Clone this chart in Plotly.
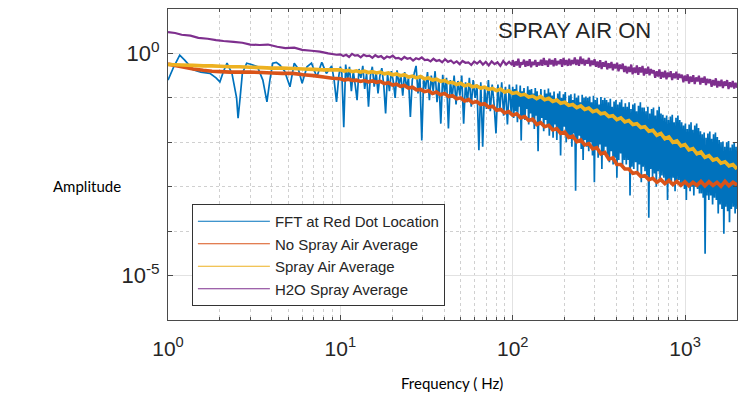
import numpy as np
import plotly.graph_objects as go

# ---------------- data (values are log10 of amplitude) ----------------
fft_low_freq = [1.0, 1.08, 1.17, 1.25, 1.4, 1.55, 1.75, 1.9, 2.0, 2.1, 2.2, 2.35, 2.5, 2.55, 2.62, 2.7,
                2.86, 3.05, 3.3, 3.55, 3.75, 3.9, 4.05, 4.25, 4.45, 4.75, 5.1, 5.4, 5.7, 6.0, 6.4, 6.8,
                7.3, 7.8, 8.3, 8.9, 9.2, 9.5, 9.8, 10.0]
fft_low_log = [-0.6, -0.3, -0.04, -0.15, -0.37, -0.42, -0.45, -0.55, -0.64, -0.4, -0.22, -0.45, -1.0, -1.46,
               -1.0, -0.45, -0.22, -0.25, -0.3, -0.6, -1.09, -0.6, -0.22, -0.2, -0.26, -0.4, -0.75, -0.22,
               -0.35, -0.67, -0.3, -0.22, -0.53, -0.2, -0.45, -0.28, -0.6, -1.09, -0.5, -0.3]
# 10.2 - 98 Hz (log-spaced bins)
fft_mid_log = [-0.45, -1.66, -0.25, -0.6, -0.3, -0.85, -0.4, -0.7, -1.05, -0.35,
               -0.55, -0.28, -0.8, -0.45, -1.2, -0.5, -0.3, -0.75, -0.4, -0.9,
               -0.5, -0.33, -0.7, -1.35, -0.45, -0.85, -0.4, -0.62, -1.0, -0.38,
               -0.7, -0.5, -0.95, -0.42, -0.78, -0.55, -1.43, -0.6, -0.45, -0.28,
               -0.9, -0.5, -1.96, -0.55, -0.8, -0.42, -1.05, -0.5, -0.85, -0.4,
               -1.1, -0.6, -1.58, -0.48, -0.9, -0.55, -1.69, -0.6, -1.0, -0.5,
               -1.15, -0.62, -0.95, -0.5, -1.58, -0.65, -1.1, -0.55, -1.2, -0.6,
               -1.0, -0.7, -2.18, -0.65, -2.1, -0.75, -1.25, -0.6, -1.3, -0.7,
               -1.15, -1.8, -0.7, -1.3, -0.65, -1.4, -0.75, -1.6, -0.7, -1.35]
# 100 - 2000 Hz (log-spaced bins)
fft_high_log = [
    -0.75, -1.45, -0.8, -1.3, -0.7, -1.55, -0.9, -1.2, -0.72, -1.96, -0.85, -1.4, -0.78, -1.5, -0.95, -1.25, -0.74, -1.6, -0.82, -1.35,
    -0.8, -1.55, -0.9, -1.7, -0.78, -1.4, -0.85, -2.2, -0.95, -1.6, -0.8, -1.45, -1.0, -1.75, -0.82, -1.5, -0.9, -1.65, -0.79, -1.85,
    -0.88, -1.7, -0.95, -1.9, -0.86, -1.6, -1.05, -1.95, -0.9, -1.75, -0.85, -2.3, -1.0, -1.8, -0.92, -1.65, -0.87, -2.0, -1.1, -1.85,
    -0.95, -1.9, -0.92, -2.1, -1.05, -1.8, -0.9, -3.09, -1.0, -2.0, -0.95, -1.85, -1.1, -2.15, -0.93, -2.4, -1.0, -1.95, -0.97, -2.1,
    -1.0, -2.2, -0.97, -2.0, -1.1, -2.3, -0.95, -2.9, -1.05, -2.15, -1.0, -2.35, -1.15, -2.05, -0.98, -2.6, -1.05, -2.25, -1.0, -2.1,
    -1.05, -2.3, -1.1, -2.45, -1.02, -2.2, -1.2, -2.5, -1.08, -2.35, -1.05, -2.8, -1.15, -2.4, -1.1, -2.25, -1.04, -2.55, -1.2, -2.4,
    -1.12, -2.5, -1.2, -2.4, -1.1, -3.2, -1.25, -2.55, -1.15, -2.6, -1.12, -2.45, -1.3, -2.7, -1.18, -2.5, -1.1, -2.9, -1.22, -2.55,
    -1.22, -2.65, -1.3, -2.75, -1.2, -3.7, -1.35, -2.6, -1.25, -2.8, -1.22, -2.7, -1.4, -3.0, -1.28, -2.65, -1.2, -2.85, -1.35, -2.75,
    -1.38, -2.8, -1.45, -2.9, -1.4, -3.3, -1.5, -2.85, -1.42, -2.95, -1.38, -2.8, -1.55, -3.1, -1.45, -2.9, -1.4, -2.85, -1.5, -3.0,
    -1.55, -2.95, -1.62, -3.05, -1.58, -3.3, -1.7, -2.95, -1.6, -3.1, -1.55, -3.0, -1.72, -3.2, -1.62, -3.0, -1.58, -3.05, -1.68, -3.15,
    -1.75, -3.15, -1.82, -3.25, -1.78, -4.51, -1.9, -3.2, -1.8, -3.3, -1.76, -3.2, -1.92, -3.4, -1.82, -3.25, -1.78, -3.3, -1.88, -3.6,
    -1.95, -3.4, -2.0, -3.5, -1.98, -4.06, -2.1, -3.45, -2.0, -3.55, -1.97, -3.8, -2.12, -3.5, -2.05, -3.45, -2.0, -3.6, -2.1, -3.5]

avg_low_freq = [1.0, 1.2, 1.4, 1.6, 1.8, 2.0, 2.3, 2.6, 3.0, 3.5, 4.0, 4.6, 5.3, 6.1, 7.0, 8.0, 9.0]
nospray_low_log = [-0.24, -0.3, -0.35, -0.38, -0.4, -0.41, -0.42, -0.42, -0.42, -0.43, -0.44, -0.45, -0.45,
                   -0.48, -0.5, -0.53, -0.56]
# 10 - 2000 Hz (log-spaced bins)
nospray_high_log = [
    -0.57, -0.6, -0.58, -0.61, -0.6, -0.63, -0.61, -0.64, -0.62, -0.65,
    -0.63, -0.68, -0.66, -0.71, -0.69, -0.74, -0.72, -0.78, -0.76, -0.82,
    -0.81, -0.86, -0.84, -0.9, -0.87, -0.93, -0.9, -0.97, -0.95, -1.02,
    -1.0, -1.07, -1.04, -1.11, -1.08, -1.15, -1.13, -1.21, -1.19, -1.28,
    -1.26, -1.34, -1.31, -1.39, -1.36, -1.45, -1.42, -1.51, -1.48, -1.6,
    -1.56, -1.65, -1.62, -1.72, -1.69, -1.8, -1.77, -1.89, -1.86, -1.99,
    -1.95, -2.06, -2.03, -2.15, -2.12, -2.26, -2.23, -2.38, -2.35, -2.5,
    -2.5, -2.6, -2.6, -2.7, -2.68, -2.77, -2.75, -2.84, -2.81, -2.9,
    -2.84, -2.93, -2.86, -2.95, -2.88, -2.97, -2.89, -2.98, -2.9, -2.97,
    -2.88, -2.98, -2.89, -2.97, -2.9, -2.99, -2.88, -2.98, -2.9, -2.96]

spray_low_log = [-0.25, -0.26, -0.27, -0.28, -0.28, -0.29, -0.3, -0.3, -0.31, -0.32, -0.33, -0.33, -0.34,
                 -0.35, -0.36, -0.37, -0.37]
spray_high_log = [
    -0.37, -0.4, -0.38, -0.41, -0.39, -0.42, -0.4, -0.43, -0.41, -0.44,
    -0.42, -0.46, -0.44, -0.48, -0.46, -0.5, -0.48, -0.53, -0.51, -0.55,
    -0.52, -0.57, -0.55, -0.6, -0.58, -0.63, -0.61, -0.66, -0.65, -0.7,
    -0.67, -0.73, -0.7, -0.75, -0.73, -0.78, -0.76, -0.81, -0.79, -0.84,
    -0.8, -0.87, -0.84, -0.9, -0.88, -0.94, -0.92, -0.98, -0.96, -1.02,
    -0.97, -1.04, -1.01, -1.08, -1.05, -1.12, -1.1, -1.17, -1.15, -1.22,
    -1.18, -1.26, -1.23, -1.31, -1.28, -1.36, -1.34, -1.42, -1.4, -1.49,
    -1.45, -1.54, -1.51, -1.6, -1.58, -1.67, -1.65, -1.75, -1.73, -1.84,
    -1.8, -1.92, -1.88, -2.0, -1.97, -2.08, -2.05, -2.17, -2.14, -2.26,
    -2.22, -2.34, -2.3, -2.4, -2.37, -2.47, -2.44, -2.53, -2.5, -2.6]

h2o_low_freq = [1.0, 1.1, 1.2, 1.35, 1.5, 1.7, 1.9, 2.1, 2.4, 2.7, 3.0, 3.4, 3.8, 4.3, 4.8, 5.4, 6.0, 6.8,
                7.6, 8.5, 9.5]
h2o_low_log = [0.48, 0.46, 0.42, 0.4, 0.35, 0.33, 0.3, 0.28, 0.26, 0.24, 0.2, 0.19, 0.2, 0.15, 0.12, 0.13,
               0.08, 0.06, 0.04, 0.0, -0.03]
# 10 - 99 Hz
h2o_mid_log = [
    -0.02, -0.06, -0.03, -0.08, -0.01, -0.05, -0.04, -0.09, -0.03, -0.06,
    -0.05, -0.1, -0.04, -0.08, -0.06, -0.12, -0.07, -0.09, -0.05, -0.11,
    -0.1, -0.14, -0.08, -0.12, -0.1, -0.16, -0.11, -0.13, -0.09, -0.15,
    -0.14, -0.18, -0.12, -0.17, -0.15, -0.2, -0.13, -0.19, -0.16, -0.22,
    -0.18, -0.24, -0.17, -0.21, -0.2, -0.26, -0.18, -0.23, -0.17, -0.25,
    -0.19, -0.27, -0.18, -0.24, -0.2, -0.28, -0.17, -0.25, -0.19, -0.26]
# 100 - 2000 Hz
h2o_high_log = [
    -0.15, -0.3, -0.18, -0.27, -0.12, -0.32, -0.2, -0.25, -0.14, -0.3, -0.17, -0.28, -0.13, -0.31, -0.19, -0.26, -0.15, -0.3, -0.2, -0.27,
    -0.14, -0.28, -0.1, -0.26, -0.16, -0.3, -0.12, -0.25, -0.15, -0.29, -0.11, -0.27, -0.17, -0.24, -0.13, -0.3, -0.1, -0.26, -0.15, -0.28,
    -0.12, -0.27, -0.15, -0.24, -0.09, -0.26, -0.14, -0.28, -0.07, -0.24, -0.12, -0.27, -0.15, -0.23, -0.1, -0.29, -0.16, -0.26, -0.13, -0.3,
    -0.18, -0.32, -0.15, -0.35, -0.2, -0.3, -0.17, -0.36, -0.22, -0.33, -0.19, -0.38, -0.24, -0.34, -0.21, -0.4, -0.25, -0.35, -0.23, -0.42,
    -0.28, -0.45, -0.3, -0.42, -0.25, -0.47, -0.32, -0.44, -0.27, -0.48, -0.31, -0.43, -0.28, -0.5, -0.34, -0.46, -0.3, -0.49, -0.35, -0.45,
    -0.38, -0.55, -0.4, -0.52, -0.36, -0.57, -0.42, -0.54, -0.39, -0.58, -0.43, -0.53, -0.4, -0.6, -0.45, -0.56, -0.41, -0.59, -0.46, -0.55,
    -0.48, -0.65, -0.5, -0.62, -0.47, -0.68, -0.52, -0.64, -0.49, -0.69, -0.54, -0.63, -0.5, -0.7, -0.55, -0.66, -0.52, -0.71, -0.57, -0.67,
    -0.58, -0.75, -0.6, -0.72, -0.56, -0.77, -0.62, -0.74, -0.59, -0.78, -0.63, -0.73, -0.6, -0.8, -0.65, -0.76, -0.62, -0.79, -0.66, -0.77]

series_names = ["FFT at Red Dot Location", "No Spray Air Average", "Spray Air Average", "H2O Spray Average"]
series_colors = ["#0072BD", "#D95319", "#EDB120", "#7E2F8E"]

x_major = [1, 10, 100, 1000]
x_major_text = ["10<sup>0</sup>", "10<sup>1</sup>", "10<sup>2</sup>", "10<sup>3</sup>"]
x_minor = [m * d for d in (1, 10, 100) for m in range(2, 10)] + [2000]
y_major = [1, 1e-5]
y_major_text = ["10<sup>0</sup>", "10<sup>-5</sup>"]
y_minor = [10, 0.1, 0.01, 1e-3, 1e-4, 1e-6]

# ---------------- assemble ----------------
fft_f = fft_low_freq + list(np.geomspace(10.2, 98, len(fft_mid_log))) + list(np.geomspace(100, 2000, len(fft_high_log)))
fft_v = 10 ** np.array(fft_low_log + fft_mid_log + fft_high_log)

avg_high_f = list(np.geomspace(10, 2000, len(nospray_high_log)))
nos_f = avg_low_freq + avg_high_f
nos_v = 10 ** np.array(nospray_low_log + nospray_high_log)
spr_f = avg_low_freq + avg_high_f
spr_v = 10 ** np.array(spray_low_log + spray_high_log)

h2o_f = h2o_low_freq + list(np.geomspace(10, 99, len(h2o_mid_log))) + list(np.geomspace(100, 2000, len(h2o_high_log)))
h2o_v = 10 ** np.array(h2o_low_log + h2o_mid_log + h2o_high_log)

fig = go.Figure()
plot_data = [(fft_f, fft_v, 1.7), (nos_f, nos_v, 3.6), (spr_f, spr_v, 3.6), (h2o_f, h2o_v, 2.2)]
for (fx, fy, w), name, col in zip(plot_data, series_names, series_colors):
    fig.add_trace(go.Scatter(x=fx, y=fy, mode="lines", name=name, showlegend=False,
                             line=dict(color=col, width=w, simplify=False)))
# legend entries (thin line samples, as in the original legend)
for name, col in zip(series_names, series_colors):
    fig.add_trace(go.Scatter(x=[None], y=[None], mode="lines", name=name,
                             line=dict(color=col, width=1.2)))

font_main = "Liberation Sans, Arial, sans-serif"
axis_col = "#4a4a4a"

fig.update_layout(
    width=744, height=401,
    margin=dict(l=168, r=7, t=9, b=81),
    paper_bgcolor="white", plot_bgcolor="white",
    font=dict(family=font_main, color="#262626"),
    showlegend=True,
    legend=dict(x=0.042, y=0.373, xanchor="left", yanchor="top",
                bgcolor="white", bordercolor="#333333", borderwidth=1,
                font=dict(size=15, family=font_main, color="#262626"),
                itemwidth=72, tracegroupgap=0),
    xaxis=dict(type="log", range=[0, np.log10(2000)],
               tickvals=x_major, ticktext=x_major_text,
               ticks="inside", ticklen=5, tickcolor=axis_col,
               showline=True, linecolor=axis_col, linewidth=1, mirror="ticks",
               showgrid=True, gridcolor="#e2e2e2", gridwidth=1, zeroline=False,
               tickfont=dict(size=21, family=font_main, color="#262626"),
               ticklabelstandoff=10,
               minor=dict(tickvals=x_minor, ticks="inside", ticklen=3, tickcolor=axis_col,
                          showgrid=True, gridcolor="#d0d0d0", griddash="dot", gridwidth=1)),
    yaxis=dict(type="log", range=[-6, 1],
               tickvals=y_major, ticktext=y_major_text,
               ticks="inside", ticklen=5, tickcolor=axis_col,
               showline=True, linecolor=axis_col, linewidth=1, mirror="ticks",
               showgrid=True, gridcolor="#e2e2e2", gridwidth=1, zeroline=False,
               tickfont=dict(size=22, family=font_main, color="#262626"),
               ticklabelstandoff=3,
               minor=dict(tickvals=y_minor, ticks="inside", ticklen=4, tickcolor=axis_col,
                          showgrid=True, gridcolor="#d0d0d0", griddash="dot", gridwidth=1)),
    annotations=[
        dict(text="SPRAY AIR ON", xref="paper", yref="paper", x=0.714, y=0.932,
             xanchor="center", yanchor="middle", showarrow=False,
             font=dict(size=22, family=font_main, color="#262626")),
        dict(text="Amplitude", xref="paper", yref="paper", x=-0.142, y=0.431,
             xanchor="center", yanchor="middle", showarrow=False,
             font=dict(size=15, family="Lato, Open Sans, sans-serif", color="#000000")),
        dict(text="Frequency ( Hz)", xref="paper", yref="paper", x=0.499, y=-0.203,
             xanchor="center", yanchor="middle", showarrow=False,
             font=dict(size=15, family="Lato, Open Sans, sans-serif", color="#000000")),
    ],
)

fig.write_html("out.html")
